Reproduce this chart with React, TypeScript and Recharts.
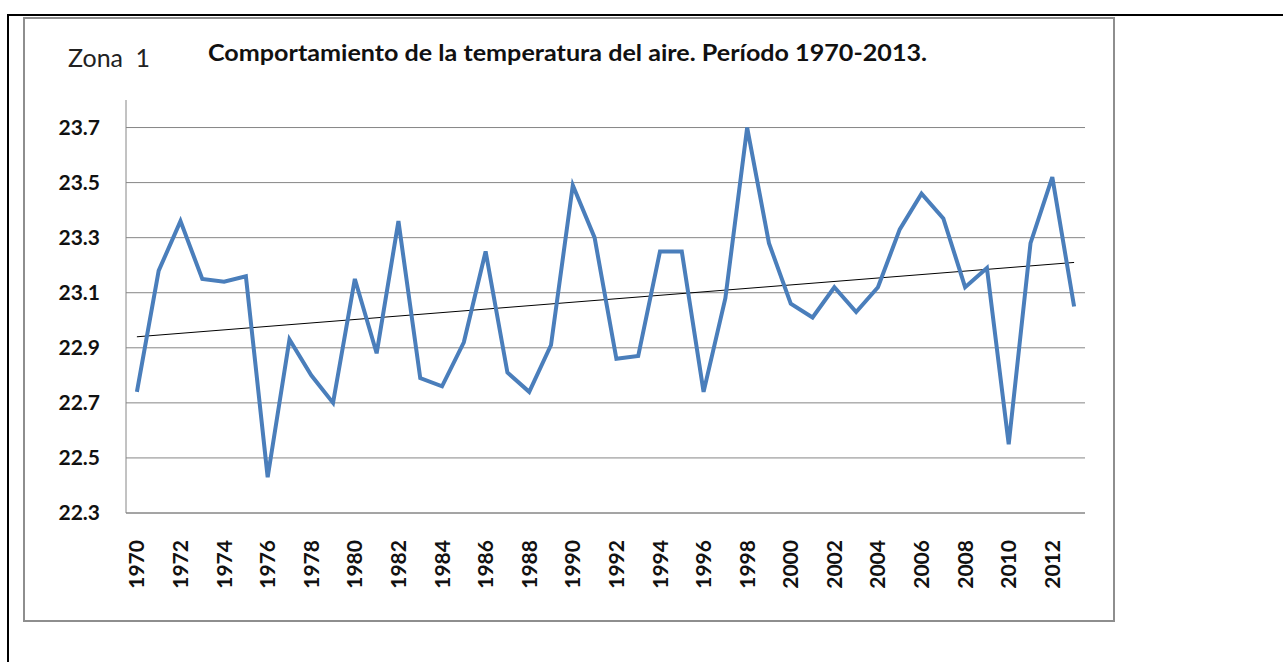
import React from "react";
import { LineChart, Line, XAxis, YAxis, CartesianGrid, ReferenceLine } from "recharts";

// Years on the category axis
const years = [
  1970, 1971, 1972, 1973, 1974, 1975, 1976, 1977, 1978, 1979,
  1980, 1981, 1982, 1983, 1984, 1985, 1986, 1987, 1988, 1989,
  1990, 1991, 1992, 1993, 1994, 1995, 1996, 1997, 1998, 1999,
  2000, 2001, 2002, 2003, 2004, 2005, 2006, 2007, 2008, 2009,
  2010, 2011, 2012, 2013,
];

// Mean air temperature (°C)
const temps = [
  22.74, 23.18, 23.36, 23.15, 23.14, 23.16, 22.43, 22.93, 22.8, 22.7,
  23.15, 22.88, 23.36, 22.79, 22.76, 22.92, 23.25, 22.81, 22.74, 22.91,
  23.49, 23.3, 22.86, 22.87, 23.25, 23.25, 22.74, 23.08, 23.7, 23.28,
  23.06, 23.01, 23.12, 23.03, 23.12, 23.33, 23.46, 23.37, 23.12, 23.19,
  22.55, 23.28, 23.52, 23.05,
];

const yTicks = [22.3, 22.5, 22.7, 22.9, 23.1, 23.3, 23.5, 23.7];

// Linear trendline end values (1970 and 2013)
const trendEnds = [22.94, 23.21];

const data = years.map((year, i) => ({ year, temp: temps[i] }));

const FONT = "Lato, 'Open Sans', sans-serif";

function YearTick({ x, y, payload }: any) {
  return (
    <text
      x={x}
      y={y}
      transform={`rotate(-90 ${x} ${y})`}
      textAnchor="end"
      dy="0.36em"
      fontFamily={FONT}
      fontWeight={700}
      fontSize={21}
      fill="#111"
    >
      {payload.value}
    </text>
  );
}

export default function App() {
  return (
    <div style={{ position: "absolute", left: 0, top: 0, width: 1283, height: 662, background: "#fff", fontFamily: FONT }}>
      {/* table cell frame */}
      <div style={{ position: "absolute", left: 7, top: 14, width: 1276, height: 648, borderTop: "2px solid #000", borderLeft: "2px solid #000" }} />
      {/* chart area border */}
      <div style={{ position: "absolute", left: 23, top: 17, width: 1088, height: 601, border: "2px solid #8e8e8e" }} />

      <div style={{ position: "absolute", left: 0, top: 0 }}>
        <LineChart width={1283} height={662} data={data} margin={{ top: 100, right: 198, bottom: 49, left: 0 }}>
          <CartesianGrid vertical={false} horizontalValues={yTicks} stroke="#868686" strokeWidth={1} />
          <XAxis
            dataKey="year"
            type="category"
            interval={1}
            height={100}
            padding={{ left: 10.9, right: 10.9 }}
            tickLine={false}
            tickSize={0}
            tickMargin={27}
            axisLine={{ stroke: "#868686" }}
            tick={<YearTick />}
          />
          <YAxis
            type="number"
            domain={[22.3, 23.8]}
            ticks={yTicks}
            width={126}
            tickLine={false}
            tickSize={0}
            tickMargin={26}
            axisLine={{ stroke: "#868686" }}
            tickFormatter={(v: number) => v.toFixed(1)}
            tick={{ fontFamily: FONT, fontWeight: 700, fontSize: 21, fill: "#111" }}
          />
          <ReferenceLine
            segment={[
              { x: years[0], y: trendEnds[0] },
              { x: years[years.length - 1], y: trendEnds[1] },
            ]}
            stroke="#000"
            strokeWidth={1}
          />
          <Line
            type="linear"
            dataKey="temp"
            stroke="#4A7EBB"
            strokeWidth={4}
            dot={false}
            isAnimationActive={false}
          />
        </LineChart>
      </div>

      <svg width={1283} height={100} style={{ position: "absolute", left: 0, top: 0, pointerEvents: "none" }}>
        <text x={68} y={67} fontFamily={FONT} fontSize={25} fill="#222" wordSpacing={6}>
          Zona 1
        </text>
        <text x={208} y={61} fontFamily={FONT} fontWeight={700} fontSize={22} fill="#111" textLength={719} lengthAdjust="spacingAndGlyphs">
          Comportamiento de la temperatura del aire. Período 1970-2013.
        </text>
      </svg>
    </div>
  );
}
